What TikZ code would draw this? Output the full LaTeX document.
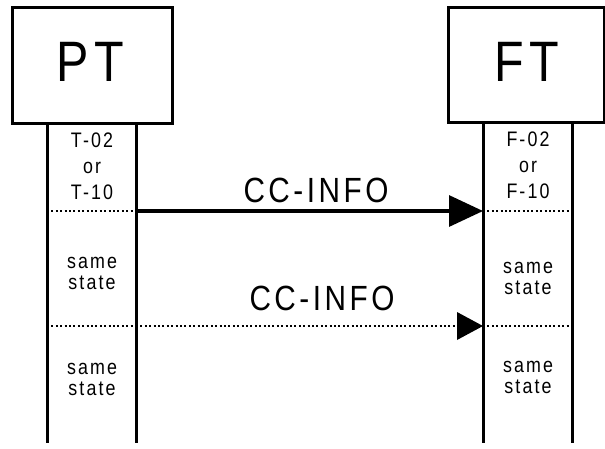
\documentclass[tikz,border=0pt]{standalone}
\usepackage{fontspec}
\setmainfont{Liberation Sans}
\newfontfamily\narrowsans[FakeStretch=0.85,LetterSpace=10]{Liberation Sans}
\usetikzlibrary{arrows.meta}
\tikzset{
  x=1pt, y=-1pt,
  frame/.style={draw, line width=3pt},
  lifeline/.style={line width=3pt},
  dotline/.style={line width=2pt, dash pattern=on 2pt off 2.4pt},
  msg/.style={line width=3.2pt},
  title/.style={font=\narrowsans\fontsize{57}{60}\selectfont, inner sep=0pt},
  msgtext/.style={font=\narrowsans\fontsize{35}{38}\selectfont, inner sep=0pt, anchor=base},
  statetext/.style={font=\narrowsans\fontsize{21}{26}\selectfont, inner sep=0pt, align=center},
  sametext/.style={font=\narrowsans\fontsize{21}{21}\selectfont, inner sep=0pt, align=center},
}
\begin{document}
\begin{tikzpicture}
\useasboundingbox (0,0) rectangle (605,448);

% entity boxes
\node[frame, minimum width=160pt, minimum height=116pt, anchor=north west] (ptbox) at (11,6) {};
\node[title] (pt) at (90,62) {PT};
\node[frame, minimum width=156pt, minimum height=115pt, anchor=north west] (ftbox) at (447,6) {};
\node[title] (ft) at (527,62) {FT};

% lifeline end points
\coordinate (ptl) at (47,122);  \coordinate (ptlb) at (47,443);
\coordinate (ptr) at (136,122); \coordinate (ptrb) at (136,443);
\coordinate (ftl) at (483,121); \coordinate (ftlb) at (483,443);
\coordinate (ftr) at (572,121); \coordinate (ftrb) at (572,443);

\draw[lifeline] (ptl) -- (ptlb);
\draw[lifeline] (ptr) -- (ptrb);
\draw[lifeline] (ftl) -- (ftlb);
\draw[lifeline] (ftr) -- (ftrb);

% first message (solid)
\coordinate (a1) at (47,211);  \coordinate (a2) at (136,211);
\coordinate (a3) at (483,211); \coordinate (a4) at (572,211);
\draw[dotline] (a1) -- (a2);
\draw[dotline] (a3) -- (a4);
\draw[msg, -{Triangle[length=34pt,width=31pt]}] (a2) -- (a3);
\node[msgtext] (m1) at (316,202) {CC-INFO};

% second message (dotted)
\coordinate (b1) at (47,326);  \coordinate (b2) at (136,326);
\coordinate (b3) at (483,326); \coordinate (b4) at (572,326);
\draw[dotline] (b1) -- (b2);
\draw[dotline] (b3) -- (b4);
\draw[dotline] (b2) -- (b3);
\fill (b3) -- ++(-26,-14) -- ++(0,28) -- cycle;
\node[msgtext] (m2) at (322,310) {CC-INFO};

% state labels
\node[statetext] (s1) at (92,166) {T-02\\or\\T-10};
\node[statetext] (s2) at (528,165) {F-02\\or\\F-10};
\node[sametext] (s3) at (92,273) {same\\state};
\node[sametext] (s4) at (528,278) {same\\state};
\node[sametext] (s5) at (92,379) {same\\state};
\node[sametext] (s6) at (528,377) {same\\state};
\end{tikzpicture}
\end{document}
